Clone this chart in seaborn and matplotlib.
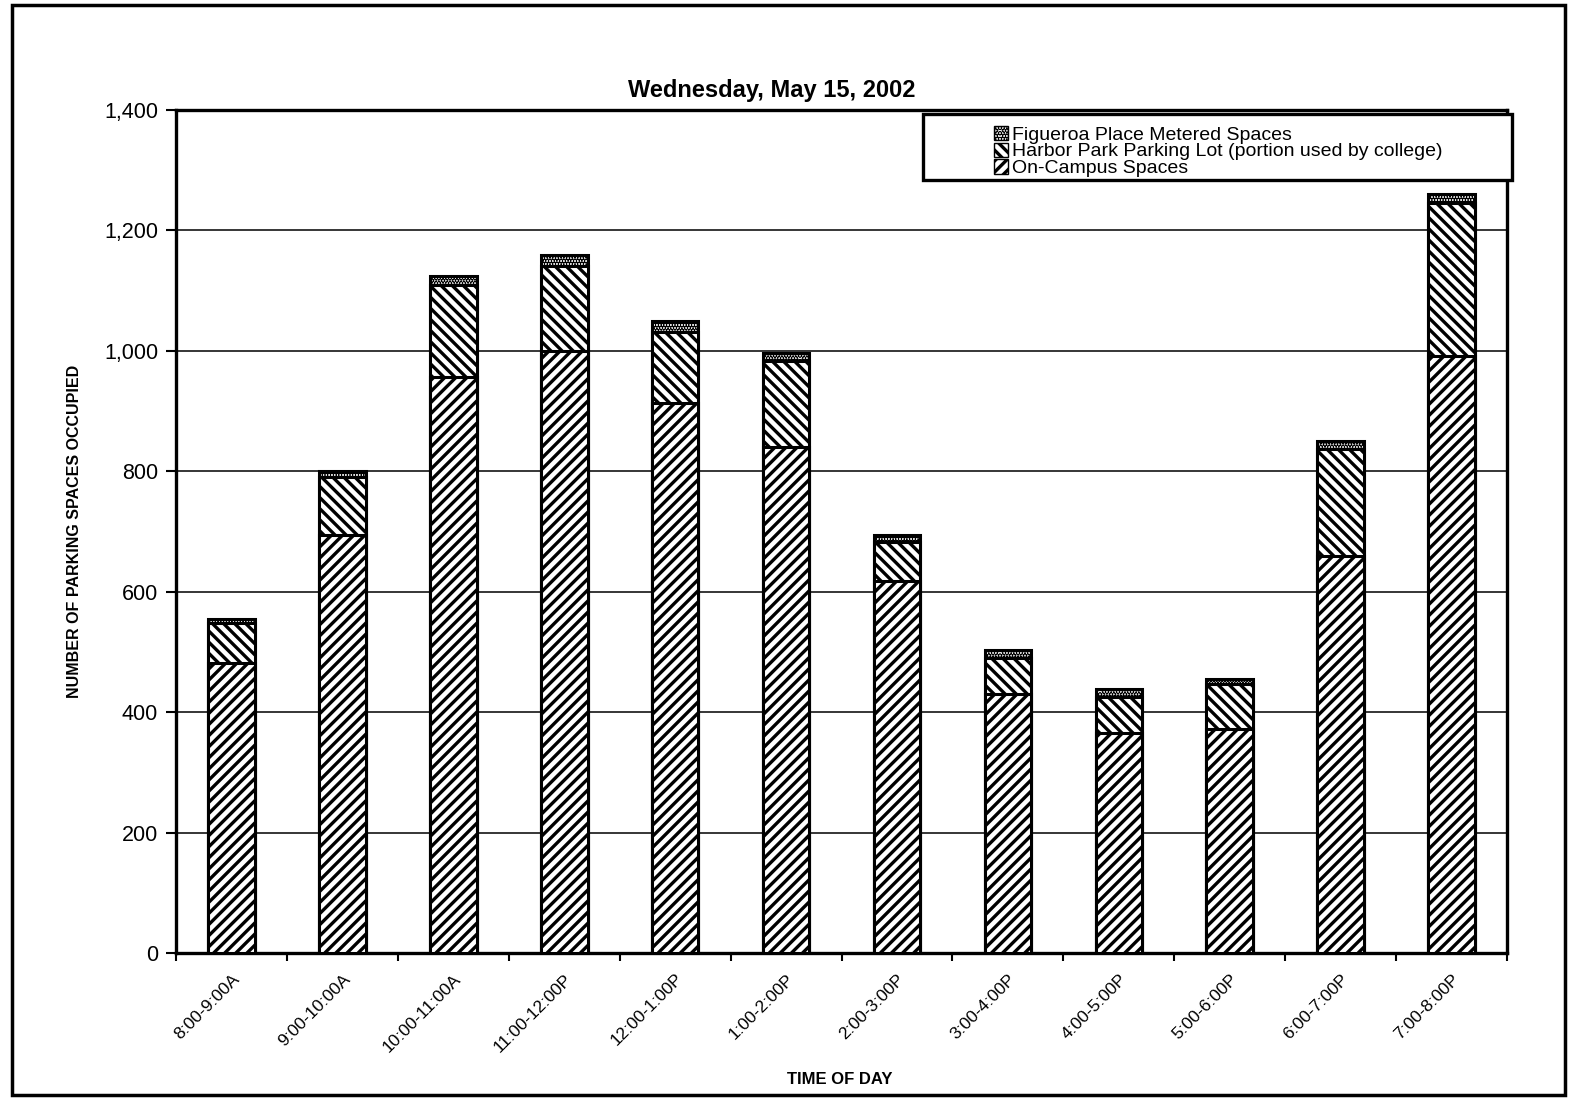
import matplotlib
matplotlib.use("Agg")
import matplotlib.pyplot as plt
from matplotlib.patches import Rectangle, Patch
from matplotlib.ticker import FuncFormatter, FixedLocator
import numpy as np
import pandas as pd
import seaborn as sns

# Parking occupancy by hour, Wednesday May 15, 2002
time_slots = ["8:00-9:00A", "9:00-10:00A", "10:00-11:00A", "11:00-12:00P",
              "12:00-1:00P", "1:00-2:00P", "2:00-3:00P", "3:00-4:00P",
              "4:00-5:00P", "5:00-6:00P", "6:00-7:00P", "7:00-8:00P"]
on_campus = [482, 694, 957, 1000, 914, 841, 618, 430, 365, 372, 660, 992]
harbor_park = [66, 97, 153, 141, 118, 142, 65, 60, 60, 75, 177, 254]
figueroa = [7, 9, 14, 18, 18, 14, 11, 13, 13, 8, 13, 15]

series_names = ["Figueroa Place Metered Spaces",
                "Harbor Park Parking Lot (portion used by college)",
                "On-Campus Spaces"]
y_ticks = [0, 200, 400, 600, 800, 1000, 1200, 1400]

sns.set_theme(style="white")
plt.rcParams["font.family"] = ["Liberation Sans", "DejaVu Sans"]
plt.rcParams["hatch.linewidth"] = 2.4
plt.rcParams["hatch.color"] = "black"
for key in ["text.color", "axes.labelcolor", "xtick.color", "ytick.color"]:
    plt.rcParams[key] = "black"

df = pd.DataFrame({
    "slot": time_slots,
    "campus": on_campus,
    "harbor_top": np.array(on_campus) + np.array(harbor_park),
})
df["total"] = df["harbor_top"] + np.array(figueroa)

fig = plt.figure(figsize=(15.72, 11.0), dpi=100)
ax = fig.add_axes([0.112, 0.1336, 0.8467, 0.7664])

bar_kw = dict(color="white", edgecolor="black", linewidth=2.2,
              width=0.42, saturation=1, ax=ax, zorder=3)
# Layers drawn from the tallest down; each opaque layer covers the one below
sns.barplot(data=df, x="slot", y="total", hatch="......", **bar_kw)
sns.barplot(data=df, x="slot", y="harbor_top", hatch="\\\\\\", **bar_kw)
sns.barplot(data=df, x="slot", y="campus", hatch="///", **bar_kw)

ax.set_xlim(-0.5, len(time_slots) - 0.5)
ax.set_ylim(0, 1400)
ax.set_yticks(y_ticks)
ax.yaxis.set_major_formatter(FuncFormatter(lambda v, p: f"{int(v):,}"))
ax.yaxis.grid(True, color="black", linewidth=1.1)
ax.set_axisbelow(True)

for s in ax.spines.values():
    s.set_visible(True)
    s.set_color("black")
    s.set_linewidth(2.4)

ax.tick_params(axis="y", which="major", left=True, length=7, width=1.5,
               labelsize=15.5, pad=6)
ax.set_xticks(range(len(time_slots)))
ax.set_xticklabels(time_slots, rotation=45, ha="right", rotation_mode="anchor",
                   fontsize=12.5)
ax.tick_params(axis="x", which="major", bottom=True, length=0, pad=13)
ax.xaxis.set_minor_locator(FixedLocator(np.arange(-0.5, len(time_slots), 1.0)))
ax.tick_params(axis="x", which="minor", bottom=True, length=6, width=1.5,
               color="black")

ax.set_xlabel("")
ax.set_ylabel("NUMBER OF PARKING SPACES OCCUPIED", fontsize=11.5,
              fontweight="bold")
ax.yaxis.set_label_coords(-0.071, 0.5)

fig.text(772 / 1572, 1 - 91 / 1100, "Wednesday, May 15, 2002", ha="center",
         va="center", fontsize=17, fontweight="bold")
fig.text(840 / 1572, 1 - 1080 / 1100, "TIME OF DAY", ha="center", va="center",
         fontsize=12, fontweight="bold")

# Legend in a plain rectangular box
fig.add_artist(Rectangle((923 / 1572, 1 - 180 / 1100), (1512 - 923) / 1572,
                         (180 - 114) / 1100, transform=fig.transFigure,
                         facecolor="white", edgecolor="black", linewidth=2.4,
                         zorder=5))
handles = [Patch(facecolor="white", edgecolor="black", hatch="......"),
           Patch(facecolor="white", edgecolor="black", hatch="\\\\\\"),
           Patch(facecolor="white", edgecolor="black", hatch="///")]
leg = fig.legend(handles, series_names, loc="upper left",
                 bbox_to_anchor=(980 / 1572, 1 - 112 / 1100), frameon=False,
                 fontsize=14, handlelength=0.75, handleheight=0.75,
                 handletextpad=0.2, labelspacing=-0.05, borderpad=0.2)
leg.set_zorder(6)

# Border around the whole figure
fig.add_artist(Rectangle((12 / 1572, 5 / 1100), (1565 - 12) / 1572,
                         (1095 - 5) / 1100, transform=fig.transFigure,
                         fill=False, edgecolor="black", linewidth=2.5))

fig.savefig("out.png", dpi=100)
